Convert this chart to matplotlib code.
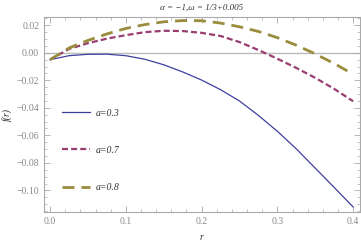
import numpy as np
import matplotlib.pyplot as plt
from matplotlib.ticker import MultipleLocator

# values
r = [0.0, 0.025, 0.05, 0.075, 0.1, 0.125, 0.15, 0.175, 0.2, 0.225, 0.25,
     0.275, 0.3, 0.325, 0.35, 0.375, 0.4]
f_a03 = [-0.005, -0.0021, -0.0011, -0.0010, -0.0021, -0.0047, -0.0087, -0.0139,
         -0.0198, -0.0268, -0.0350, -0.0455, -0.0570, -0.0698, -0.0838, -0.0978, -0.1120]
f_a07 = [-0.005, 0.0028, 0.0070, 0.0103, 0.0128, 0.0150, 0.0160, 0.0158,
         0.0145, 0.0122, 0.0078, 0.0020, -0.0043, -0.0110, -0.0182, -0.0262, -0.0352]
f_a08 = [-0.005, 0.0035, 0.0090, 0.0137, 0.0177, 0.0205, 0.0225, 0.0234,
         0.0233, 0.0216, 0.0189, 0.0155, 0.0110, 0.0055, -0.0008, -0.0078, -0.0155]
labels = ["a=0.3", "a=0.7", "a=0.8"]
title = "\u03b1 = \u22121,\u03c9 = 1/3+0.005"

plt.rcParams['font.family'] = ['Liberation Serif', 'DejaVu Serif']
plt.rcParams['axes.unicode_minus'] = True

fig = plt.figure(figsize=(3.61, 2.43), dpi=100)
ax = fig.add_axes([0.122, 0.128, 0.875, 0.802])

ax.axhline(0, color='#bbbbbb', lw=1.0, zorder=1)
ax.plot(r, f_a03, color='#3f3fa0', lw=0.9, label=labels[0])
ax.plot(r, f_a07, color='#993d71', lw=1.6, dashes=(2.7, 1.4), label=labels[1])
ax.plot(r, f_a08, color='#998c3d', lw=2.0, dashes=(4.3, 2.5), label=labels[2])

ax.set_xlim(-0.008, 0.409)
ax.set_ylim(-0.1156, 0.026)

ax.xaxis.set_major_locator(MultipleLocator(0.1))
ax.xaxis.set_minor_locator(MultipleLocator(0.02))
ax.yaxis.set_major_locator(MultipleLocator(0.02))
ax.yaxis.set_minor_locator(MultipleLocator(0.005))
ax.xaxis.set_major_formatter(plt.FuncFormatter(lambda v, p: f"{v:.1f}"))
ax.yaxis.set_major_formatter(plt.FuncFormatter(
    lambda v, p: f"{v:.2f}".replace("-", "\u2212") if abs(v) > 1e-9 else "0.00"))

ax.tick_params(which='both', direction='in', top=True, right=True,
               color='#aaaaaa', labelcolor='#888888', labelsize=7)
ax.tick_params(which='major', length=4, width=0.6)
ax.tick_params(which='minor', length=2, width=0.5)
for s in ax.spines.values():
    s.set_color('#aaaaaa')
    s.set_linewidth(0.8)

ax.set_title(title, fontsize=6.5, style='italic', color='#333333', pad=5)
ax.set_xlabel("r", style='italic', fontsize=7, color='#333333', labelpad=5)
ax.set_ylabel("f(r)", style='italic', fontsize=7, color='#333333', labelpad=3)

leg = ax.legend(loc='upper left', bbox_to_anchor=(0.044, 0.55), frameon=False,
                borderaxespad=0, fontsize=7, handlelength=2.9, labelspacing=2.9,
                handletextpad=0.6)
for t in leg.get_texts():
    t.set_style('italic')
    t.set_color('#333333')

fig.savefig("out.png", dpi=100)
